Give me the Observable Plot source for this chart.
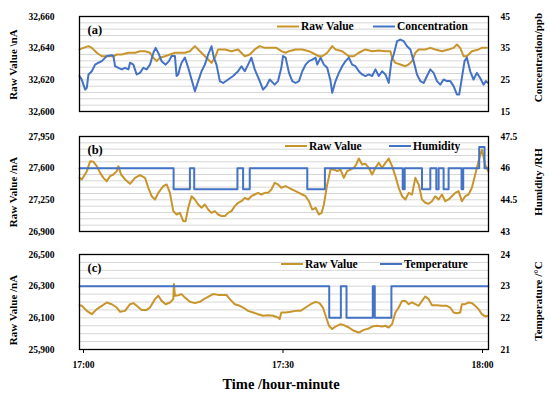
<!DOCTYPE html>
<html><head><meta charset="utf-8">
<script src="https://cdn.jsdelivr.net/npm/d3@7"></script>
<script src="https://cdn.jsdelivr.net/npm/@observablehq/plot@0.6"></script>
<style>
body{margin:0;background:#fff;}
#chart{position:relative;width:550px;height:394px;background:#fff;}
#chart svg{position:absolute;left:0;}
</style></head><body><div id="chart"></div>
<script>
// ---- shared time axis (minutes after 17:00) ----
const timeTicks = [0, 30, 60];
const timeTickLabels = ["17:00", "17:30", "18:00"];
const timeTitle = "Time /hour-minute";

// ---- panel (a) ----
const aRawT = [-0.6,0.0,0.75,1.25,2.0,2.75,3.75,4.5,5.0,5.75,6.75,7.75,8.5,9.25,10.0,10.5,11.0,11.5,12.25,13.0,13.75,14.5,15.25,16.0,16.75,17.25,18.0,18.75,19.25,19.75,20.25,21.25,22.25,23.25,24.25,25.0,25.75,26.5,27.25,28.25,29.0,29.75,30.4,30.9,31.9,32.9,33.9,34.9,35.4,35.9,36.65,37.4,37.9,38.9,39.9,40.65,41.4,42.4,43.4,44.4,45.4,46.15,46.4,46.9,47.65,48.4,48.9,49.4,49.9,50.4,51.4,52.15,52.9,53.9,54.9,55.65,56.15,56.65,57.15,57.65,58.4,59.4,59.9,60.65];
const aRaw = [32639.2,32640.2,32641.3,32640.2,32637.1,32634.9,32634.9,32634.9,32636.0,32636.0,32637.1,32637.1,32638.1,32638.1,32637.1,32633.9,32631.8,32633.9,32634.9,32636.0,32637.1,32637.1,32637.1,32638.1,32641.3,32639.2,32636.0,32632.8,32630.7,32633.9,32639.2,32639.2,32638.1,32639.2,32634.9,32636.0,32639.2,32641.3,32640.2,32640.2,32640.2,32638.1,32637.1,32638.1,32639.2,32639.2,32638.1,32636.0,32634.9,32634.9,32637.1,32641.3,32639.2,32638.1,32634.9,32634.9,32637.1,32639.2,32638.1,32638.5,32638.1,32638.1,32633.9,32630.7,32629.7,32628.6,32629.7,32631.8,32637.1,32639.2,32639.2,32640.2,32639.2,32638.1,32639.2,32640.2,32642.3,32640.2,32634.9,32634.9,32638.1,32639.2,32640.2,32640.2];
const aConcT = [-0.6,-0.25,0.25,0.5,0.75,1.25,1.75,2.25,2.75,3.5,4.25,4.5,4.75,5.25,5.75,6.25,6.75,7.0,7.5,8.0,8.5,9.0,9.5,10.0,10.5,10.85,11.25,11.75,12.35,12.85,13.25,13.75,14.0,14.25,14.5,14.75,15.25,15.75,16.25,16.75,17.25,17.75,18.25,18.75,19.25,19.6,20.0,20.5,21.0,21.75,22.5,23.25,23.75,24.25,24.75,25.25,25.75,26.5,27.0,27.5,28.0,28.75,29.25,29.75,30.0,30.4,30.9,31.4,31.9,32.4,32.9,33.4,33.9,34.4,34.9,35.15,35.65,36.15,36.65,37.15,37.4,37.9,38.4,38.9,39.4,39.9,40.4,40.9,41.4,41.9,42.4,42.9,43.4,43.9,44.4,44.9,45.4,45.9,46.3,46.65,47.15,47.65,48.15,48.65,49.15,49.65,50.15,50.65,51.15,51.65,52.15,52.65,53.15,53.65,54.15,54.65,55.15,55.65,56.15,56.5,56.9,57.3,57.65,58.15,58.65,59.15,59.65,60.15,60.5,60.85];
const aConc = [26.2,25.0,21.9,22.5,26.7,27.7,29.8,30.4,30.9,32.5,32.8,32.5,29.3,28.8,28.3,28.8,28.3,30.4,29.8,26.7,27.2,28.8,28.3,29.8,33.5,35.1,33.5,30.9,29.8,30.9,32.5,32.5,26.2,26.7,28.8,30.4,32.0,28.8,25.1,21.4,24.6,27.7,29.8,33.0,35.6,32.0,29.8,24.6,24.0,25.1,26.2,27.7,29.3,27.7,29.8,32.0,28.3,24.6,21.9,23.0,25.1,23.5,24.6,28.8,32.5,32.0,27.2,24.6,24.0,24.6,27.7,29.8,30.9,31.4,32.0,29.8,32.0,29.8,28.8,24.6,20.9,24.6,27.2,29.3,30.9,32.0,29.8,29.3,27.7,26.7,26.2,26.7,26.2,28.3,26.2,27.7,26.7,24.0,30.9,33.0,37.2,37.7,37.2,35.6,34.6,30.9,26.7,24.6,24.0,26.2,28.3,27.2,24.6,23.5,25.1,24.6,24.6,23.0,20.4,20.4,25.6,30.9,32.0,27.7,25.1,27.2,25.6,23.5,24.6,24.0];
const aLeftTicks = [32600, 32620, 32640, 32660];
const aRightTicks = [15, 25, 35, 45];
const aLegend = ["Raw Value", "Concentration"];
const aTitles = ["Raw Value \\nA", "Concentration/ppb", "(a)"];

// ---- panel (b) ----
const bRawT = [-0.6,-0.25,0.5,1.0,1.5,2.0,2.5,3.0,3.5,4.0,4.5,5.0,5.25,5.65,6.25,7.0,7.75,8.5,9.25,9.75,10.25,10.75,11.25,12.0,12.5,13.0,13.5,14.0,14.5,15.0,15.35,15.75,16.25,16.75,17.25,17.75,18.25,18.75,19.25,19.75,20.25,20.75,21.25,21.75,22.25,22.75,23.25,23.75,24.25,24.75,25.25,25.75,26.25,26.75,27.25,27.75,28.25,28.75,29.25,29.75,30.4,30.9,31.4,31.9,32.4,32.9,33.4,33.9,34.4,34.9,35.4,35.8,36.15,36.65,37.15,37.65,38.15,38.65,39.15,39.65,40.15,40.65,41.0,41.4,41.9,42.4,42.9,43.4,43.9,44.4,44.9,45.4,45.9,46.4,46.9,47.4,47.9,48.4,48.9,49.4,49.9,50.4,50.9,51.4,51.9,52.4,52.9,53.4,53.9,54.4,54.9,55.4,55.9,56.4,56.9,57.4,57.9,58.4,58.9,59.4,59.9,60.4,60.85];
const bRaw = [27493,27475,27567,27677,27670,27622,27548,27493,27456,27512,27530,27567,27622,27530,27475,27427,27493,27523,27493,27383,27290,27254,27327,27401,27420,27327,27125,27088,27106,27014,27014,27162,27290,27254,27198,27162,27198,27143,27106,27125,27088,27070,27070,27106,27125,27180,27217,27235,27272,27254,27290,27309,27327,27309,27327,27327,27364,27438,27420,27383,27401,27383,27364,27346,27327,27309,27290,27235,27143,27162,27088,27106,27198,27420,27585,27585,27567,27585,27493,27567,27585,27604,27640,27707,27640,27648,27604,27530,27604,27659,27604,27659,27707,27622,27512,27383,27290,27254,27327,27309,27493,27420,27254,27217,27206,27235,27290,27254,27309,27235,27254,27290,27327,27346,27235,27290,27309,27383,27530,27677,27806,27640,27567];
const bHumT = [-0.6,13.55,16.0,16.65,23.15,24.0,25.0,33.65,36.3,48.0,48.3,50.9,52.15,53.05,53.4,54.15,54.9,56.85,57.1,59.5,60.3,60.9];
const bHum = [46,45,46,45,46,45,46,45,46,45,46,45,46,45,46,45,46,45,46,47,46,46];
const bLeftTicks = [26900, 27250, 27600, 27950];
const bRightTicks = [43, 44.5, 46, 47.5];
const bLegend = ["Raw Value", "Humidity"];
const bTitles = ["Raw Value /nA", "Humidity /RH", "(b)"];

// ---- panel (c) ----
const cRawT = [-0.6,-0.25,0.5,1.25,2.0,2.75,3.5,4.25,5.0,5.5,6.25,7.0,7.5,8.0,8.75,9.5,10.0,10.75,11.25,11.75,12.35,13.0,13.5,13.6,13.75,14.25,14.75,15.25,16.0,16.75,17.5,18.25,19.0,19.5,20.25,21.5,22.0,22.75,23.5,24.0,24.75,25.5,26.25,27.0,27.75,28.5,29.25,29.5,29.75,30.4,31.15,31.9,32.65,33.4,34.15,34.9,35.5,36.0,36.5,36.9,37.4,37.9,38.65,39.15,39.9,40.65,41.4,42.15,42.9,43.4,44.15,44.9,45.4,45.9,46.4,46.9,47.4,47.9,48.4,48.9,49.4,49.9,50.4,50.9,51.4,51.9,52.4,53.15,53.9,54.65,55.15,55.65,56.15,56.65,56.9,57.4,57.9,58.4,58.9,59.4,59.9,60.4,60.85];
const cRaw = [26180,26176,26144,26123,26155,26176,26197,26186,26165,26138,26144,26186,26193,26176,26150,26150,26165,26218,26239,26207,26186,26197,26218,26313,26239,26243,26250,26228,26201,26193,26201,26222,26239,26250,26245,26245,26218,26186,26176,26165,26144,26134,26123,26113,26117,26113,26102,26092,26134,26134,26138,26144,26144,26165,26186,26201,26193,26165,26102,26050,26029,26045,26060,26054,26039,26018,26007,26024,26033,26045,26050,26045,26050,26039,26060,26134,26165,26207,26207,26186,26197,26186,26176,26207,26235,26218,26180,26180,26176,26176,26165,26134,26129,26134,26186,26186,26197,26193,26176,26155,26123,26109,26113];
const cTempT = [-0.6,36.95,38.7,39.55,43.5,43.8,46.3,60.9];
const cTemp = [23,22,23,22,23,22,23,23];
const cLeftTicks = [25900, 26100, 26300, 26500];
const cRightTicks = [21, 22, 23, 24];
const cLegend = ["Raw Value", "Temperature"];
const cTitles = ["Raw Value /nA", "Temperature /°C", "(c)"];

// ---- drawing ----
const ORANGE = "#C8952C", BLUE = "#4472C4";
const FONT = "'Liberation Serif', 'Times New Roman', serif";
const X_DOMAIN = [-0.6, 60.9];

function makePanel(cfg) {
  const [L0, L1] = [cfg.leftTicks[0], cfg.leftTicks[cfg.leftTicks.length - 1]];
  const [R0, R1] = [cfg.rightTicks[0], cfg.rightTicks[cfg.rightTicks.length - 1]];
  const toLeft = v => L0 + (v - R0) * (L1 - L0) / (R1 - R0);
  const raw = cfg.rawT.map((t, i) => ({t, v: cfg.raw[i]}));
  const other = cfg.otherT.map((t, i) => ({t, v: toLeft(cfg.other[i])}));
  const rightPos = cfg.rightTicks.map(toLeft);
  const rightLabel = new Map(rightPos.map((p, i) => [p, String(cfg.rightTicks[i])]));
  const grid = d3.range(L0, L1 + cfg.minor / 2, cfg.minor);
  const marks = [
    Plot.ruleY(grid, {stroke: "#d6d6d6", strokeWidth: 1}),
    Plot.line(raw, {x: "t", y: "v", stroke: ORANGE, strokeWidth: 2}),
    Plot.line(other, {x: "t", y: "v", stroke: BLUE, strokeWidth: 2, curve: cfg.curve}),
    Plot.frame({stroke: "#000", strokeWidth: 1.3}),
    Plot.axisY(cfg.leftTicks, {anchor: "left", tickSize: 0, tickPadding: 25, tickFormat: d3.format(","), fontSize: 9.5, fontWeight: "bold", label: null}),
    Plot.axisY(rightPos, {anchor: "right", tickSize: 0, tickPadding: 12, tickFormat: d => rightLabel.get(d), fontSize: 9.5, fontWeight: "bold", label: null}),
    Plot.text([cfg.titles[0]], {text: d => d, frameAnchor: "left", textAnchor: "middle", lineAnchor: "middle", dx: -66.5, dy: cfg.leftDy, rotate: -90, fontSize: 11, fontWeight: "bold"}),
    Plot.text([cfg.titles[1]], {text: d => d, frameAnchor: "right", textAnchor: "middle", lineAnchor: "middle", dx: 49.5, dy: cfg.rightDy, rotate: -90, fontSize: 11, fontWeight: "bold"}),
    Plot.text([cfg.titles[2]], {text: d => d, frameAnchor: "top-left", dx: 8, dy: 17.5, textAnchor: "start", lineAnchor: "bottom", fontSize: 12.5, fontWeight: "bold"})
  ];
  if (cfg.xAxis) {
    const tl = new Map(timeTicks.map((t, i) => [t, timeTickLabels[i]]));
    marks.push(Plot.axisX(timeTicks, {tickSize: 4, tickPadding: 8, tickFormat: d => tl.get(d), fontSize: 9.5, fontWeight: "bold", label: null}));
    marks.push(Plot.text([timeTitle], {text: d => d, frameAnchor: "bottom", textAnchor: "middle", dx: -3, dy: 39, lineAnchor: "bottom", fontSize: 14.5, fontWeight: "bold"}));
  }
  const svg = Plot.plot({
    width: 550, height: cfg.height,
    marginLeft: 79, marginRight: 62, marginTop: cfg.mt, marginBottom: cfg.mb,
    x: {domain: X_DOMAIN, axis: null},
    y: {domain: [L0, L1], axis: null},
    style: {fontFamily: FONT, fontWeight: "bold", fontSize: "9.5px", color: "#000", background: "transparent", overflow: "visible"},
    marks
  });
  // legend
  const g = d3.select(svg).append("g").attr("font-family", FONT).attr("font-weight", "bold")
    .attr("font-size", "11.5px").attr("text-anchor", "start");
  const lg = cfg.legendPos;
  [[lg[0], ORANGE, cfg.legend[0]], [lg[1], BLUE, cfg.legend[1]]].forEach(([x, color, name]) => {
    g.append("line").attr("x1", x).attr("x2", x + 22).attr("y1", lg[2]).attr("y2", lg[2])
      .attr("stroke", color).attr("stroke-width", 2);
    g.append("text").attr("x", x + 24).attr("y", lg[2]).attr("dy", "0.34em").attr("fill", "#000")
      .attr("text-anchor", "start").text(name);
  });
  svg.style.top = cfg.top + "px";
  document.getElementById("chart").appendChild(svg);
}

makePanel({top: 0, height: 125, mt: 16, mb: 14, rawT: aRawT, raw: aRaw, otherT: aConcT, other: aConc,
  leftTicks: aLeftTicks, rightTicks: aRightTicks, minor: 4, titles: aTitles, legend: aLegend, curve: "linear",
  leftDy: 0.5, rightDy: -6.5, legendPos: [277, 373, 26.5]});
makePanel({top: 125, height: 117, mt: 11, mb: 11, rawT: bRawT, raw: bRaw, otherT: bHumT, other: bHum,
  leftTicks: bLeftTicks, rightTicks: bRightTicks, minor: 70, titles: bTitles, legend: bLegend, curve: "step-after",
  leftDy: 8, rightDy: -2, legendPos: [285, 389, 21]});
makePanel({top: 242, height: 152, mt: 12, mb: 45, rawT: cRawT, raw: cRaw, otherT: cTempT, other: cTemp,
  leftTicks: cLeftTicks, rightTicks: cRightTicks, minor: 50, titles: cTitles, legend: cLegend, curve: "step-after",
  leftDy: 8, rightDy: -1, legendPos: [281, 380, 22], xAxis: true});
</script>
</body></html>
